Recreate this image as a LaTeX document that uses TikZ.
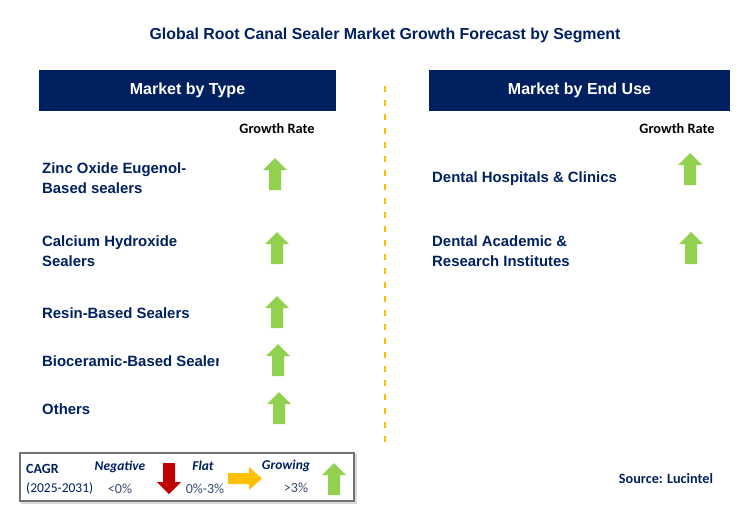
\documentclass[tikz,border=0pt]{standalone}
\usepackage{fontspec}
\setmainfont{Liberation Sans}
\newfontfamily\calfont{Carlito}
\usepackage{xcolor}
\definecolor{navy}{HTML}{002060}
\definecolor{growgreen}{HTML}{92D050}
\definecolor{fallred}{HTML}{C00000}
\definecolor{flatyellow}{HTML}{FFC000}
\definecolor{legendtext}{HTML}{3B4A78}
\usetikzlibrary{positioning}

% up arrow: centre x, top y (pixel units)
\newcommand{\growarrow}[2]{%
  \fill[growgreen] (#1-12,#2+12) -- (#1,#2) -- (#1+12,#2+12) -- (#1+6,#2+12)
    -- (#1+6,#2+32) -- (#1-6,#2+32) -- (#1-6,#2+12) -- cycle;}

\tikzset{
  header/.style={fill=navy, text=white, font=\bfseries\fontsize{16}{19}\selectfont,
    minimum width=297pt, minimum height=41pt, inner sep=0pt},
  item/.style={anchor=west, text=navy, font=\bfseries\fontsize{14.9}{20}\selectfont,
    align=left, inner sep=0pt},
  ratehead/.style={font=\calfont\bfseries\fontsize{14.3}{16}\selectfont, inner sep=0pt},
  legendhead/.style={text=navy, font=\calfont\bfseries\itshape\fontsize{13.5}{16}\selectfont, inner sep=0pt},
  legendval/.style={text=legendtext, font=\calfont\fontsize{14}{16}\selectfont, inner sep=0pt}
}

\begin{document}
\begin{tikzpicture}[x=1pt, y=-1pt]
    \useasboundingbox[fill=white] (0,0) rectangle (743,512);

    % title
    \node[text=navy, font=\bfseries\fontsize{15.9}{18}\selectfont] (title) at (385,35)
      {Global Root Canal Sealer Market Growth Forecast by Segment};

    % headers
    \node[header] (typehead) at (187.5,90.5) {Market by Type};
    \node[header, minimum width=301pt] (usehead) at (579.5,90.5) {Market by End Use};

    \node[ratehead] (typerate) at (277,129) {Growth Rate};
    \node[ratehead] (userate) at (677,129) {Growth Rate};

    % divider
    \draw[flatyellow, line width=2pt, dash pattern=on 6pt off 8pt] (385,86) -- (385,442);

    % market by type
    \node[item] (zinc) at (42,178.5) {Zinc Oxide Eugenol-\\Based sealers};
    \node[item] (calcium) at (42,251) {Calcium Hydroxide\\Sealers};
    \node[item] (resin) at (42,313.5) {Resin-Based Sealers};
    \begin{scope}
      \clip (0,340) rectangle (218,382);
      \node[item] (bioceramic) at (42,361.5) {Bioceramic-Based Sealers};
    \end{scope}
    \node[item] (others) at (42,409.5) {Others};

    \growarrow{275}{158}
    \growarrow{277}{232}
    \growarrow{277}{296}
    \growarrow{278}{344}
    \growarrow{279}{392}

    % market by end use
    \node[item] (hospitals) at (432,179) {Dental Hospitals \& Clinics};
    \node[item] (academic) at (432,251) {Dental Academic \&\\Research Institutes};

    \growarrow{690}{153}
    \growarrow{691}{232}

    % legend
    \draw[black!15, line width=1.5pt] (22,455) rectangle (356,503);
    \draw[black!55, fill=white, line width=1.2pt] (20,453) rectangle (354,501);
    \node[anchor=west, text=navy, font=\calfont\bfseries\fontsize{14}{16}\selectfont, inner sep=0pt]
      (cagr) at (26,469) {CAGR};
    \node[anchor=west, text=navy, font=\calfont\fontsize{13.5}{16}\selectfont, inner sep=0pt]
      (period) at (26,488) {(2025-2031)};
    \node[legendhead] (negative) at (120,467) {Negative};
    \node[legendval] (negval) at (120,489) {<0\%};
    \fill[fallred] (163,463) -- (175,463) -- (175,482) -- (181,482) -- (169,494)
      -- (157,482) -- (163,482) -- cycle;
    \node[legendhead] (flat) at (203,466) {Flat};
    \node[legendval] (flatval) at (205,489) {0\%-3\%};
    \fill[flatyellow] (228,473) -- (249,473) -- (249,467) -- (262,478.5) -- (249,490)
      -- (249,484) -- (228,484) -- cycle;
    \node[legendhead] (growing) at (286,466) {Growing};
    \node[legendval] (growval) at (296,488) {>3\%};
    \growarrow{334}{463}

    % source
    \node[text=navy, font=\calfont\bfseries\fontsize{14.2}{16}\selectfont, inner sep=0pt]
      (source) at (666,479) {Source: Lucintel};
\end{tikzpicture}
\end{document}
